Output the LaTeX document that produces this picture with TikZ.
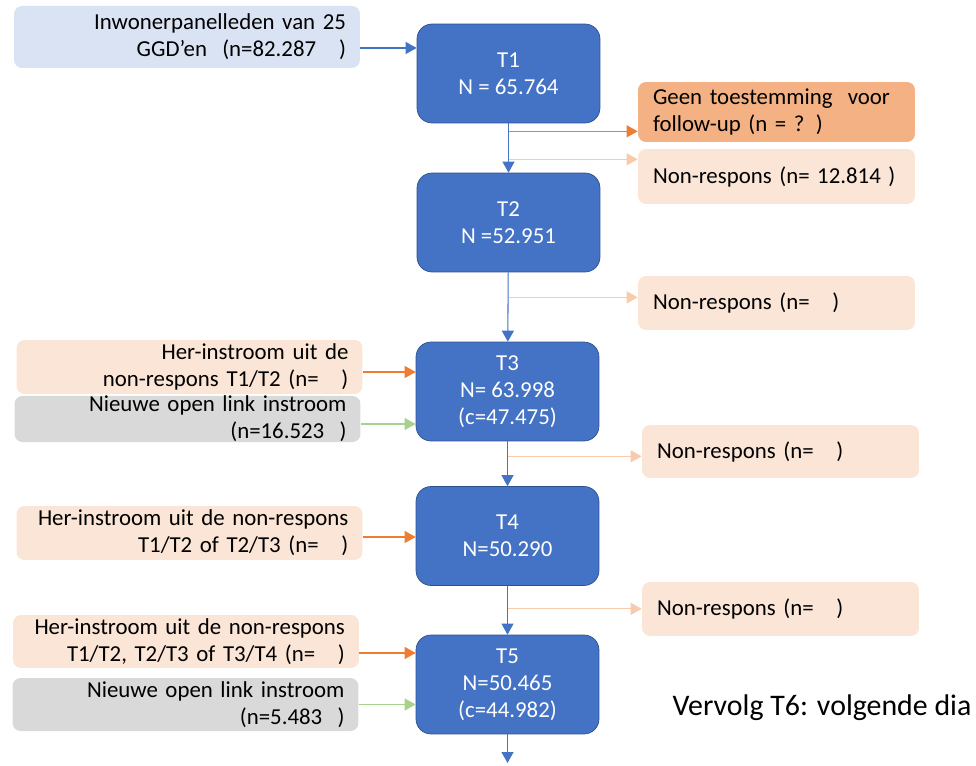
\documentclass[tikz,border=0pt]{standalone}
\usepackage{fontspec}
\setmainfont{Carlito}
\usepackage{tikz}
\usetikzlibrary{arrows.meta}

\definecolor{tblue}{HTML}{4472C4}
\definecolor{tborder}{HTML}{2F528F}
\definecolor{srcblue}{HTML}{DAE3F3}
\definecolor{orangefill}{HTML}{F4B183}
\definecolor{peach}{HTML}{FBE5D6}
\definecolor{greyfill}{HTML}{D9D9D9}
\definecolor{orangeline}{HTML}{ED7D31}
\definecolor{peachline}{HTML}{F8CBAD}
\definecolor{greenline}{HTML}{A9D18E}

\begin{document}
\begin{tikzpicture}[x=0.02cm, y=-0.02cm]
			\tikzset{tbox/.style={shape = rectangle, rounded corners = 0.3cm, draw = tborder, line width = 0.4pt, fill = tblue, text = white, align = center, minimum width = 3.66cm, minimum height = 1.98cm, font = \fontsize{13}{15.4}\selectfont}}
			\tikzset{lbox/.style={shape = rectangle, rounded corners = 0.16cm, align = right, text width = 6.36cm, inner xsep = 0.28cm, inner ysep = 0pt, minimum height = #1, font = \fontsize{13}{15.4}\selectfont}}
			\tikzset{rbox/.style={shape = rectangle, rounded corners = 0.16cm, align = left, text width = 4.94cm, inner xsep = 0.3cm, inner ysep = 0pt, minimum height = #1, font = \fontsize{13}{15.4}\selectfont}}
			\tikzset{edge/.style={-{Triangle[length = 0.22cm, width = 0.24cm]}, line width = 0.6pt}}
			\tikzset{bedge/.style={edge, draw = tblue}}
			\tikzset{oedge/.style={edge, draw = orangeline}}
			\tikzset{pedge/.style={edge, draw = peachline}}
			\tikzset{gedge/.style={edge, draw = greenline}}
			\useasboundingbox (0, 0) rectangle (976, 766);
			%waves
			\node[tbox] (t1) at (508.5, 73.5) {T1\\N = 65.764};
			\node[tbox] (t2) at (508.5, 222.5) {T2\\N =52.951};
			\node[tbox] (t3) at (507.5, 391.5) {T3\\N= 63.998\\(c=47.475)};
			\node[tbox] (t4) at (507.5, 536) {T4\\N=50.290};
			\node[tbox] (t5) at (507.5, 684.5) {T5\\N=50.465\\(c=44.982)};
			%inflow
			\node[lbox = 1.24cm, fill = srcblue] (src) at (187, 37) {Inwonerpanelleden van 25\\GGD’en\ \ (n=82.287\quad)};
			\node[lbox = 1.08cm, fill = peach] (her1) at (189.5, 367) {Her-instroom uit de\\non-respons T1/T2 (n=\quad)};
			\node[lbox = 0.88cm, fill = greyfill] (new1) at (187.5, 419) {Nieuwe open link instroom\\(n=16.523\ \ )};
			\node[lbox = 1.08cm, fill = peach] (her2) at (189.5, 533) {Her-instroom uit de non-respons\\T1/T2 of T2/T3 (n=\quad)};
			\node[lbox = 1.06cm, fill = peach] (her3) at (186, 641.5) {Her-instroom uit de non-respons\\T1/T2, T2/T3 of T3/T4 (n=\quad)};
			\node[lbox = 1.06cm, fill = greyfill] (new2) at (185.5, 704.5) {Nieuwe open link instroom\\(n=5.483\ \ )};
			%outflow
			\node[rbox = 1.2cm, fill = orangefill] (geen) at (776.5, 112) {Geen toestemming\ \ voor\\follow-up (n = ? )};
			\node[rbox = 1.1cm, fill = peach] (nr1) at (776.5, 176.5) {\mbox{Non-respons (n= 12.814\ )}};
			\node[rbox = 1.08cm, fill = peach] (nr2) at (776.5, 303) {Non-respons (n=\quad)};
			\node[rbox = 1.06cm, fill = peach] (nr3) at (780.5, 451.5) {Non-respons (n=\quad)};
			\node[rbox = 1.08cm, fill = peach] (nr4) at (780.5, 609) {Non-respons (n=\quad)};
			\node[font = \fontsize{17}{20}\selectfont] (vervolg) at (822, 708) {Vervolg T6: volgende dia};
			\coordinate (end) at (507.5, 763);
			%edges
			\draw[bedge] (src.east) ++(0, 11) coordinate (a0) -- (a0 -| t1.west);
			\draw[bedge] (t1) -- (t2);
			\draw[bedge] (t2) -- (t3);
			\draw[bedge] (t3) -- (t4);
			\draw[bedge] (t4) -- (t5);
			\draw[bedge] (t5) -- (end);
			\draw[oedge] (t1.south) ++(0, 8) coordinate (b1) -- (b1 -| geen.west);
			\draw[pedge] (t1.south) ++(0, 36) coordinate (b2) -- (b2 -| nr1.west);
			\draw[pedge] (t2.south) ++(0, 25) coordinate (b3) -- (b3 -| nr2.west);
			\draw[pedge] (t3.south) ++(0, 15) coordinate (b4) -- (b4 -| nr3.west);
			\draw[pedge] (t4.south) ++(0, 23) coordinate (b5) -- (b5 -| nr4.west);
			\draw[oedge] (her1.east) ++(0, 5) coordinate (a1) -- (a1 -| t3.west);
			\draw[gedge] (new1.east) ++(0, 5) coordinate (a2) -- (a2 -| t3.west);
			\draw[oedge] (her2.east) ++(0, 4) coordinate (a3) -- (a3 -| t4.west);
			\draw[oedge] (her3.east) ++(0, 11.5) coordinate (a4) -- (a4 -| t5.west);
			\draw[gedge] (new2) -- (new2 -| t5.west);
\end{tikzpicture}
\end{document}
